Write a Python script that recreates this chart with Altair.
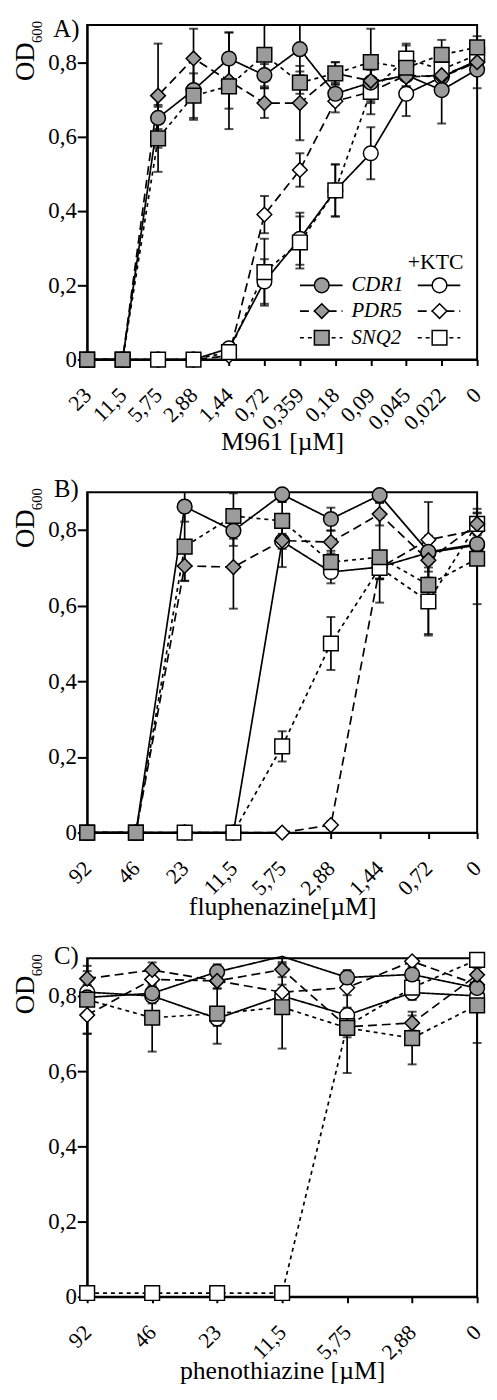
import altair as alt
import pandas as pd

FONT = "Liberation Serif"
GRAY = "#9b9b9b"

SERIES = ["CDR1", "PDR5", "SNQ2", "CDR1 +KTC", "PDR5 +KTC", "SNQ2 +KTC"]
SHAPES = ["circle", "diamond", "square", "circle", "diamond", "square"]
FILLS = [GRAY, GRAY, GRAY, "white", "white", "white"]
SOLID, LONG, SHORT = [1, 0], [9, 5], [4, 4]

# ---------------- Panel A (M961) ----------------
A_LABELS = ["23", "11,5", "5,75", "2,88", "1,44", "0,72", "0,359", "0,18", "0,09", "0,045", "0,022", "0"]
A_CDR1 = [0, 0, 0.65, 0.725, 0.81, 0.765, 0.835, 0.715, 0.745, 0.765, 0.725, 0.78]
A_PDR5 = [0, 0, 0.71, 0.81, 0.75, 0.69, 0.69, 0.77, 0.75, 0.76, 0.765, 0.80]
A_SNQ2 = [0, 0, 0.595, 0.71, 0.735, 0.82, 0.745, 0.77, 0.80, 0.785, 0.82, 0.84]
A_CDR1_K = [0, 0, 0, 0, 0.03, 0.21, 0.325, 0.455, 0.555, 0.715, 0.76, 0.805]
A_PDR5_K = [0, 0, 0, 0, 0.01, 0.39, 0.51, 0.695, 0.72, 0.765, 0.76, 0.80]
A_SNQ2_K = [0, 0, 0, 0, 0.02, 0.235, 0.315, 0.455, 0.72, 0.81, 0.78, 0.82]
A_CDR1_E = [0, 0, 0.03, 0.08, 0.07, 0.03, 0.07, 0.03, 0.05, 0.03, 0.09, 0.05]
A_PDR5_E = [0, 0, 0.14, 0.08, 0.13, 0.04, 0.10, 0.03, 0.03, 0.03, 0.03, 0.03]
A_SNQ2_E = [0, 0, 0.09, 0.06, 0.06, 0.09, 0.03, 0.03, 0.09, 0.06, 0.04, 0.03]
A_CDR1_KE = [0, 0, 0, 0, 0.01, 0.06, 0.07, 0.07, 0.07, 0.06, 0.03, 0.03]
A_PDR5_KE = [0, 0, 0, 0, 0, 0.05, 0.045, 0.03, 0.03, 0.03, 0.03, 0.03]
A_SNQ2_KE = [0, 0, 0, 0, 0, 0.09, 0.07, 0.07, 0.06, 0.04, 0.03, 0.03]

# ---------------- Panel B (fluphenazine) ----------------
B_LABELS = ["92", "46", "23", "11,5", "5,75", "2,88", "1,44", "0,72", "0"]
B_CDR1 = [0, 0, 0.862, 0.798, 0.894, 0.829, 0.892, 0.742, 0.763]
B_PDR5 = [0, 0, 0.705, 0.702, 0.772, 0.768, 0.842, 0.72, 0.816]
B_SNQ2 = [0, 0, 0.756, 0.837, 0.824, 0.715, 0.728, 0.655, 0.724]
B_CDR1_K = [0, 0, 0, 0, 0.77, 0.689, 0.702, 0.74, 0.76]
B_PDR5_K = [0, 0, 0, 0, 0, 0.02, 0.70, 0.774, 0.80]
B_SNQ2_K = [0, 0, 0, 0, 0.228, 0.50, 0.70, 0.611, 0.816]
B_CDR1_E = [0, 0, 0.04, 0.04, 0.02, 0.03, 0.02, 0.03, 0.03]
B_PDR5_E = [0, 0, 0.04, 0.11, 0.07, 0.03, 0.03, 0.03, 0.04]
B_SNQ2_E = [0, 0, 0.09, 0.06, 0.05, 0.03, 0.12, 0.13, 0.12]
B_CDR1_KE = [0, 0, 0, 0, 0.02, 0.03, 0.03, 0.03, 0.03]
B_PDR5_KE = [0, 0, 0, 0, 0, 0.01, 0.03, 0.10, 0.03]
B_SNQ2_KE = [0, 0, 0, 0, 0.04, 0.07, 0.03, 0.09, 0.03]

# ---------------- Panel C (phenothiazine) ----------------
C_LABELS = ["92", "46", "23", "11,5", "5,75", "2,88", "0"]
C_CDR1 = [0.796, 0.807, 0.864, 0.905, 0.849, 0.857, 0.821]
C_PDR5 = [0.846, 0.869, 0.84, 0.87, 0.718, 0.728, 0.856]
C_SNQ2 = [0.79, 0.742, 0.753, 0.77, 0.715, 0.688, 0.775]
C_CDR1_K = [0.81, 0.80, 0.74, 0.80, 0.749, 0.809, 0.80]
C_PDR5_K = [0.749, 0.844, 0.84, 0.81, 0.822, 0.892, 0.83]
C_SNQ2_K = [0.01, 0.01, 0.01, 0.01, 0.72, 0.822, 0.896]
C_CDR1_E = [0.02, 0.02, 0.02, 0.02, 0.02, 0.02, 0.03]
C_PDR5_E = [0.02, 0.02, 0.02, 0.02, 0.02, 0.02, 0.02]
C_SNQ2_E = [0.09, 0.09, 0.08, 0.11, 0.12, 0.07, 0.10]
C_CDR1_KE = [0.02, 0.02, 0.02, 0.02, 0.02, 0.02, 0.02]
C_PDR5_KE = [0.05, 0.02, 0.02, 0.02, 0.02, 0.02, 0.02]
C_SNQ2_KE = [0, 0, 0, 0, 0.03, 0.03, 0.02]

Y_TICKS = [0, 0.2, 0.4, 0.6, 0.8]
W = 394


def text_layer(txt, x, y, size, angle=0, italic=False, align="center"):
    return alt.Chart(pd.DataFrame({"t": [txt]})).mark_text(
        font=FONT, fontSize=size, color="black", angle=angle, align=align,
        baseline="middle", fontStyle="italic" if italic else "normal"
    ).encode(text="t:N", x=alt.value(x), y=alt.value(y))


def panel(labels, vals, errs, dashes, height, letter, letter_y, xtitle, legend=False):
    rows = []
    for s in [3, 4, 5, 0, 1, 2]:
        for i, lab in enumerate(labels):
            v, e = vals[s][i], errs[s][i]
            rows.append(dict(series=SERIES[s], conc=lab, idx=i, v=v, err=e, lo=v - e, hi=v + e))
    df = pd.DataFrame(rows)

    x = alt.X("conc:O", sort=labels, scale=alt.Scale(type="point", padding=0), title=xtitle,
              axis=alt.Axis(labelAngle=-45, labelAlign="right", labelBaseline="middle",
                            labelFontSize=22, labelFont=FONT, labelColor="black",
                            tickSize=6, tickWidth=2, tickColor="black", domainWidth=2,
                            domainColor="black", titleFont=FONT, titleFontSize=26,
                            titleFontWeight="normal", titleColor="black", labelPadding=26,
                            titlePadding=-5, grid=False))
    yscale = alt.Scale(domain=[0, 0.9], nice=False, zero=False)
    yaxis = alt.Axis(values=Y_TICKS, labelExpr="datum.value == 0 ? '0' : replace(format(datum.value, '.1f'), '.', ',')",
                     labelFontSize=23, labelFont=FONT, labelColor="black", tickSize=10, tickWidth=2,
                     tickColor="black", domainWidth=2, domainColor="black", labelPadding=1, grid=False)
    y = alt.Y("v:Q", scale=yscale, axis=yaxis, title=None)

    base = alt.Chart(df)
    dash_enc = alt.StrokeDash("series:N", scale=alt.Scale(domain=SERIES, range=dashes), legend=None)
    lines = base.mark_line(color="black", strokeWidth=1.7).encode(
        x=x, y=y, detail="series:N", strokeDash=dash_enc, order="idx:Q")
    eb = base.transform_filter("datum.err > 0").transform_calculate(hic="min(datum.hi, 0.9)")
    rules = eb.mark_rule(color="black", strokeWidth=1.7).encode(
        x=x, y=alt.Y("lo:Q", scale=yscale, title=None), y2=alt.Y2("hic:Q", title=None))
    cap_lo = eb.mark_tick(color="black", thickness=2, size=9).encode(
        x=x, y=alt.Y("lo:Q", scale=yscale, title=None))
    cap_hi = eb.transform_filter("datum.hi <= 0.9").mark_tick(color="black", thickness=2, size=9).encode(
        x=x, y=alt.Y("hi:Q", scale=yscale, title=None))
    pts = base.transform_filter("datum.v <= 0.9").mark_point(
        filled=True, size=220, stroke="black", strokeWidth=1.5, opacity=1).encode(
        x=x, y=y,
        shape=alt.Shape("series:N", scale=alt.Scale(domain=SERIES, range=SHAPES), legend=None),
        fill=alt.Fill("series:N", scale=alt.Scale(domain=SERIES, range=FILLS), legend=None))

    layers = [lines, rules, cap_lo, cap_hi, pts,
              text_layer(letter, -21, letter_y, 25),
              text_layer("OD", -62, 37, 27, angle=270),
              text_layer("600", -51, 7, 15, angle=270)]

    if legend:
        leg_y = [263, 289, 316]
        for r in range(3):
            for c, s in enumerate([r, r + 3]):
                x0 = 215 if c == 0 else 334
                layers.append(alt.Chart(pd.DataFrame({"a": [0]})).mark_rule(
                    color="black", strokeWidth=1.7, strokeDash=dashes[s]).encode(
                    x=alt.value(x0), x2=alt.value(x0 + 43), y=alt.value(leg_y[r])))
                layers.append(alt.Chart(pd.DataFrame({"a": [0]})).mark_point(
                    filled=True, size=220, stroke="black", strokeWidth=1.5, opacity=1,
                    shape=SHAPES[s], fill=FILLS[s]).encode(
                    x=alt.value(x0 + 22), y=alt.value(leg_y[r])))
            layers.append(text_layer(SERIES[r], 267, leg_y[r], 21, italic=True, align="left"))
        layers.append(text_layer("+KTC", 352, 240, 22))

    return alt.layer(*layers).properties(width=W, height=height)


A = panel(A_LABELS, [A_CDR1, A_PDR5, A_SNQ2, A_CDR1_K, A_PDR5_K, A_SNQ2_K],
          [A_CDR1_E, A_PDR5_E, A_SNQ2_E, A_CDR1_KE, A_PDR5_KE, A_SNQ2_KE],
          [SOLID, LONG, SHORT, SOLID, LONG, SHORT], 338, "A)", 4, "M961 [µM]", legend=True)
B = panel(B_LABELS, [B_CDR1, B_PDR5, B_SNQ2, B_CDR1_K, B_PDR5_K, B_SNQ2_K],
          [B_CDR1_E, B_PDR5_E, B_SNQ2_E, B_CDR1_KE, B_PDR5_KE, B_SNQ2_KE],
          [SOLID, SOLID, SHORT, SOLID, LONG, SHORT], 344, "B)", -3, "fluphenazine[µM]")
C = panel(C_LABELS, [C_CDR1, C_PDR5, C_SNQ2, C_CDR1_K, C_PDR5_K, C_SNQ2_K],
          [C_CDR1_E, C_PDR5_E, C_SNQ2_E, C_CDR1_KE, C_PDR5_KE, C_SNQ2_KE],
          [SOLID, LONG, SHORT, SOLID, LONG, SHORT], 342, "C)", -2, "phenothiazine [µM]")

chart = alt.vconcat(
    A, alt.vconcat(B, C, spacing=127, bounds="flush"), spacing=134, bounds="flush"
).configure(
    padding={"left": 3, "top": 1, "right": 0, "bottom": 0}, background="white",
    view=alt.ViewConfig(stroke="black", strokeWidth=2))

chart.save("out.html", embed_options={"renderer": "svg", "actions": False})
